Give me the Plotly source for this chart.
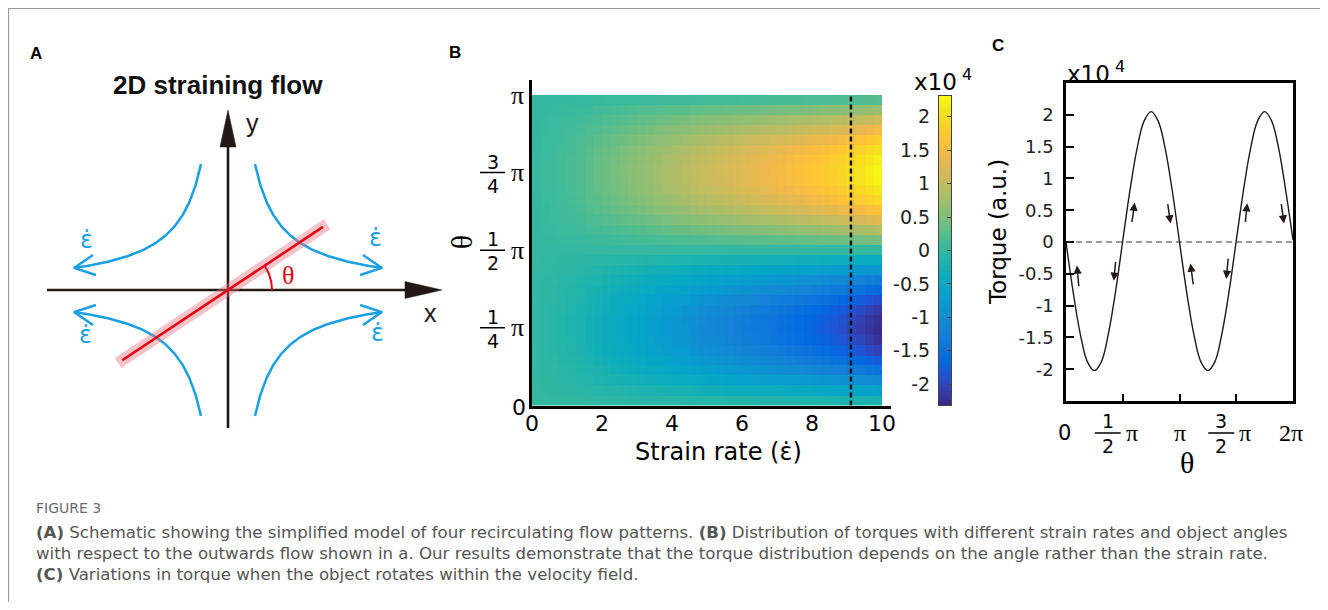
import numpy as np
import plotly.graph_objects as go

# the page puts the figure 8px in from the top-left corner
OFF = 8
FW, FH = 1320, 594

# ---------------- panel B: torque map (units of 1e4) ----------------
strain_rate = [0.125, 0.375, 0.625, 0.875, 1.125, 1.375, 1.625, 1.875, 2.125, 2.375,
               2.625, 2.875, 3.125, 3.375, 3.625, 3.875, 4.125, 4.375, 4.625, 4.875,
               5.125, 5.375, 5.625, 5.875, 6.125, 6.375, 6.625, 6.875, 7.125, 7.375,
               7.625, 7.875, 8.125, 8.375, 8.625, 8.875, 9.125, 9.375, 9.625, 9.875]
strain_ticks = [0, 2, 4, 6, 8, 10]
# torque amplitude seen along each strain-rate column
peak_torque = [0.02, 0.05, 0.08, 0.12, 0.16, 0.21, 0.27, 0.33, 0.39, 0.45,
               0.51, 0.57, 0.63, 0.69, 0.75, 0.81, 0.87, 0.93, 0.99, 1.05,
               1.10, 1.15, 1.20, 1.25, 1.30, 1.35, 1.40, 1.45, 1.50, 1.55,
               1.60, 1.66, 1.72, 1.78, 1.85, 1.92, 2.00, 2.08, 2.17, 2.27]
# row centres (units of pi) and relative torque of each row
theta_rows = [0.016, 0.048, 0.081, 0.113, 0.145, 0.177, 0.210, 0.242, 0.274, 0.306,
              0.339, 0.371, 0.403, 0.435, 0.468, 0.500, 0.532, 0.565, 0.597, 0.629,
              0.661, 0.694, 0.726, 0.758, 0.790, 0.823, 0.855, 0.887, 0.919, 0.952, 0.984]
angle_profile = [-0.10, -0.30, -0.49, -0.65, -0.79, -0.90, -0.97, -1.00, -0.99, -0.94,
                 -0.85, -0.72, -0.57, -0.39, -0.20, 0.00, 0.20, 0.39, 0.57, 0.72,
                 0.85, 0.94, 0.99, 1.00, 0.97, 0.90, 0.79, 0.65, 0.49, 0.30, 0.10]
dashed_strain = 9.1
cbar_min, cbar_max = -2.31, 2.31
cbar_ticks = [-2, -1.5, -1, -0.5, 0, 0.5, 1, 1.5, 2]
cbar_text = ['-2', '-1.5', '-1', '-0.5', '0', '0.5', '1', '1.5', '2']

# ---------------- panel C: torque vs angle ----------------
theta_c = [0, 0.0625, 0.125, 0.1875, 0.25, 0.3125, 0.375, 0.4375, 0.5, 0.5625, 0.625,
           0.6875, 0.75, 0.8125, 0.875, 0.9375, 1.0, 1.0625, 1.125, 1.1875, 1.25, 1.3125,
           1.375, 1.4375, 1.5, 1.5625, 1.625, 1.6875, 1.75, 1.8125, 1.875, 1.9375, 2.0]
torque_c = [0.00, -0.78, -1.44, -1.88, -2.02, -1.88, -1.43, -0.77, 0.02, 0.80, 1.46,
            1.90, 2.05, 1.90, 1.46, 0.79, 0.00, -0.78, -1.44, -1.88, -2.02, -1.88,
            -1.43, -0.77, 0.02, 0.80, 1.46, 1.90, 2.05, 1.90, 1.46, 0.79, 0.03]
torque_ticks = [-2, -1.5, -1, -0.5, 0, 0.5, 1, 1.5, 2]
torque_text = ['-2', '-1.5', '-1', '-0.5', '0', '0.5', '1', '1.5', '2']
# small direction arrows: (tail theta, tail torque, tip theta, tip torque)
torque_arrows = [(0.358, -0.72, 0.303, -0.37), (1.378, -0.29, 1.323, -0.61),
                 (1.819, 0.29, 1.901, 0.62), (2.811, 0.62, 2.894, 0.29),
                 (3.527, -0.69, 3.445, -0.34), (4.492, -0.24, 4.437, -0.58),
                 (4.960, 0.29, 5.016, 0.61), (5.953, 0.62, 6.035, 0.29)]

# ---------------- panel A: schematic (pixel-like units) ----------------
flow_k = 3400
flow_x = (27, 154)
rod_angle = 33.6
rod_len = (127, 114)
arc_r = 44

parula_idx = [0, 3, 6, 9, 12, 15, 18, 21, 24, 27, 30, 33, 36, 39, 42, 45, 48, 51, 54, 57, 60, 63]
parula_rgb = [(0.2081, 0.1663, 0.5292), (0.2081, 0.2386, 0.6771), (0.1253, 0.3242, 0.8303),
              (0.0060, 0.4086, 0.8828), (0.0498, 0.4586, 0.8641), (0.0779, 0.5040, 0.8384),
              (0.0641, 0.5570, 0.8240), (0.0265, 0.6137, 0.8135), (0.0228, 0.6535, 0.7768),
              (0.0590, 0.6838, 0.7254), (0.1453, 0.7098, 0.6646), (0.2586, 0.7317, 0.5954),
              (0.3953, 0.7459, 0.5244), (0.5300, 0.7491, 0.4661), (0.6473, 0.7456, 0.4188),
              (0.7525, 0.7384, 0.3768), (0.8507, 0.7299, 0.3360), (0.9450, 0.7261, 0.2886),
              (0.9990, 0.7653, 0.2164), (0.9789, 0.8271, 0.1633), (0.9589, 0.8949, 0.1132),
              (0.9763, 0.9831, 0.0538)]
parula = [[i / 63, 'rgb(%d,%d,%d)' % tuple(int(round(c * 255)) for c in rgb)]
          for i, rgb in zip(parula_idx, parula_rgb)]


def px(x):
    return (x - OFF) / FW


def py(y):
    return 1 - (y - OFF) / FH


SANS = 'DejaVu Sans'
SERIF = 'Liberation Serif'
AX = '#231815'
BLUE = '#1a9fe0'
RED = '#e60012'

fig = go.Figure()

# B heatmap
z = np.outer(angle_profile, peak_torque)
fig.add_trace(go.Heatmap(x=strain_rate, y=[t * np.pi for t in theta_rows], z=z,
                         colorscale=parula, zmin=cbar_min, zmax=cbar_max,
                         showscale=False, hoverinfo='skip', xaxis='x', yaxis='y'))
# colour bar drawn as its own small axis so labels sit on the left
cb = np.linspace(cbar_min, cbar_max, 240)
fig.add_trace(go.Heatmap(x=[0], y=cb, z=[[v] for v in cb], colorscale=parula,
                         zmin=cbar_min, zmax=cbar_max, showscale=False,
                         hoverinfo='skip', xaxis='x4', yaxis='y4'))
fig.add_trace(go.Scatter(x=[0], y=[0], mode='markers', marker=dict(opacity=0),
                         hoverinfo='skip', xaxis='x4', yaxis='y5'))

# C curve
fig.add_trace(go.Scatter(x=[t * np.pi for t in theta_c], y=torque_c, mode='lines',
                         line=dict(color='#1a1a1a', width=1.4, shape='spline'),
                         hoverinfo='skip', xaxis='x2', yaxis='y2'))


# A schematic
def a_line(x, y, color, width, **kw):
    fig.add_trace(go.Scatter(x=x, y=y, mode='lines', line=dict(color=color, width=width),
                             hoverinfo='skip', xaxis='x3', yaxis='y3', **kw))


for sx, sy in [(1, 1), (-1, 1), (-1, -1), (1, -1)]:
    xs = np.geomspace(flow_x[0], flow_x[1], 120)
    a_line(sx * xs, sy * flow_k / xs, BLUE, 2.5)
    tx, ty = sx * flow_x[1], sy * flow_k / flow_x[1]
    d = np.array([sx, -sy * flow_k / flow_x[1] ** 2])
    d = -d / np.linalg.norm(d)
    arms = []
    for a in (np.radians(26), -np.radians(26)):
        rx = d[0] * np.cos(a) - d[1] * np.sin(a)
        ry = d[0] * np.sin(a) + d[1] * np.cos(a)
        arms.append((tx + 23 * rx, ty + 23 * ry))
    a_line([arms[0][0], tx, arms[1][0]], [arms[0][1], ty, arms[1][1]], BLUE, 2.5)

# coordinate axes with arrow heads
a_line([-181, 180], [0, 0], AX, 2.6)
a_line([0, 0], [-138, 146], AX, 2.6)
a_line([177, 214, 177, 177], [8.5, 0, -8.5, 8.5], AX, 0.5, fill='toself', fillcolor=AX)
a_line([-8, 0, 8, -8], [143, 180, 143, 143], AX, 0.5, fill='toself', fillcolor=AX)

# rod and angle
ca, sa = np.cos(np.radians(rod_angle)), np.sin(np.radians(rod_angle))
a_line([-(rod_len[0] + 5) * ca, (rod_len[1] + 5) * ca], [-(rod_len[0] + 5) * sa, (rod_len[1] + 5) * sa],
       'rgba(236,112,128,0.42)', 12)
a_line([-rod_len[0] * ca, rod_len[1] * ca], [-rod_len[0] * sa, rod_len[1] * sa], RED, 2.6)
ang = np.radians(np.linspace(0, rod_angle, 40))
a_line(arc_r * np.cos(ang), arc_r * np.sin(ang), RED, 2)

shapes = [
    # outer frame
    dict(type='rect', xref='paper', yref='paper', x0=0.0004, x1=px(1327), y0=-0.1, y1=0.9993,
         line=dict(color='#9a9a9a', width=1.2)),
    # dashed marker in B
    dict(type='line', xref='x', yref='y', x0=dashed_strain, x1=dashed_strain, y0=0, y1=np.pi,
         line=dict(color='#111', width=2.5, dash='5px,3px')),
    # zero line in C
    dict(type='line', xref='x2', yref='y2', x0=0, x1=2 * np.pi, y0=0, y1=0,
         line=dict(color='#333', width=1, dash='6px,4px')),
]

ann = []


def txt(text, x, y, size, family=SANS, color='black', xanchor='center', **kw):
    ann.append(dict(text=text, x=px(x), y=py(y), xref='paper', yref='paper', showarrow=False,
                    xanchor=xanchor, yanchor='middle',
                    font=dict(family=family, size=size, color=color), **kw))


def note(text, x, y, xref, yref, size, family, color='black', **kw):
    ann.append(dict(text=text, x=x, y=y, xref=xref, yref=yref, showarrow=False,
                    xanchor='center', yanchor='middle',
                    font=dict(family=family, size=size, color=color), **kw))


# panel letters
txt('<b>A</b>', 36, 53, 17, 'Liberation Sans')
txt('<b>B</b>', 455, 52, 17, 'Liberation Sans')
txt('<b>C</b>', 998, 45, 17, 'Liberation Sans')

# A texts
txt('<b>2D straining flow</b>', 218, 85, 26, 'Liberation Sans', '#111')
note('y', 24, 167, 'x3', 'y3', 25, 'Liberation Sans', AX)
note('x', 202, -23, 'x3', 'y3', 25, 'Liberation Sans', AX)
note('θ', 60, 15, 'x3', 'y3', 26, SERIF, RED)
for ex, ey in [(-142, 50), (147, 52), (-143, -45), (149, -43)]:
    note('ε̇', ex, ey, 'x3', 'y3', 24, SANS, BLUE)

# B tick labels
for v in strain_ticks:
    note(str(v), v, py(423), 'x', 'paper', 22, SANS)
note('0', px(519), 0, 'paper', 'y', 22, SANS, yshift=-2)
note('π', px(517), np.pi, 'paper', 'y', 26, SERIF)
for num, den, val in [('1', '4', 0.25), ('1', '2', 0.5), ('3', '4', 0.75)]:
    note(num, px(493), val * np.pi, 'paper', 'y', 19, SANS, yshift=11)
    note(den, px(493), val * np.pi, 'paper', 'y', 19, SANS, yshift=-13)
    note('π', px(517), val * np.pi, 'paper', 'y', 26, SERIF)
    shapes.append(dict(type='line', xref='paper', yref='y', x0=px(480), x1=px(505),
                       y0=val * np.pi, y1=val * np.pi, line=dict(color='black', width=1.5)))
note('θ', px(461), 0.5 * np.pi, 'paper', 'y', 30, SERIF, textangle=-90, yshift=8)
txt('Strain rate (ε̇)', 718, 452, 24)
txt('x10<sup> 4</sup>', 912, 80, 23, xanchor='left')

# C tick labels on the angle axis
ly = 433
txt('0', 1064, ly, 21)
note('π', np.pi, py(ly), 'x2', 'paper', 24, SERIF)
note('2π', 2 * np.pi, py(ly), 'x2', 'paper', 24, SERIF, xshift=-2)
for num, val in [('1', 0.5), ('3', 1.5)]:
    note(num, val * np.pi, py(ly), 'x2', 'paper', 19, SANS, xshift=-15, yshift=12)
    note('2', val * np.pi, py(ly), 'x2', 'paper', 19, SANS, xshift=-15, yshift=-13)
    note('π', val * np.pi, py(ly), 'x2', 'paper', 24, SERIF, xshift=9)
    cx = 1066 + val / 2 * 227 - 15
    shapes.append(dict(type='line', xref='paper', yref='paper', x0=px(cx - 13), x1=px(cx + 13),
                       y0=py(ly), y1=py(ly), line=dict(color='black', width=1.5)))
txt('θ', 1187, 462, 30, SERIF)
txt('Torque (a.u.)', 998, 232, 23, textangle=-90)
txt('x10<sup> 4</sup>', 1065, 72, 23, xanchor='left')

for t0, v0, t1, v1 in torque_arrows:
    ann.append(dict(x=t1, y=v1, ax=t0, ay=v0, xref='x2', yref='y2', axref='x2', ayref='y2',
                    text='', showarrow=True, arrowhead=2, arrowsize=1.1, arrowwidth=1.5,
                    arrowcolor=AX))

# caption
txt('FIGURE 3', 34, 508, 14, SANS, '#6b6b6b', xanchor='left')
cap_lines = [
    '<b>(A)</b> Schematic showing the simplified model of four recirculating flow patterns. '
    '<b>(B)</b> Distribution of torques with different strain rates and object angles',
    'with respect to the outwards flow shown in a. Our results demonstrate that the torque '
    'distribution depends on the angle rather than the strain rate.',
    '<b>(C)</b> Variations in torque when the object rotates within the velocity field.',
]
for i, line in enumerate(cap_lines):
    txt(line, 34, 532 + 21 * i, 16.6, SANS, '#555555', xanchor='left')

noaxis = dict(showgrid=False, zeroline=False)
fig.update_layout(
    width=FW, height=FH, margin=dict(l=0, r=0, t=0, b=0),
    paper_bgcolor='white', plot_bgcolor='white', showlegend=False,
    xaxis=dict(domain=[px(532), px(891)], range=[0, 10.243], anchor='y', showline=True,
               linecolor='black', linewidth=2.5, ticks='', showticklabels=False, **noaxis),
    yaxis=dict(domain=[py(405.5), py(80)], range=[0, np.pi * 1.0483], anchor='x', showline=True,
               linecolor='black', linewidth=2.5, ticks='', showticklabels=False, **noaxis),
    xaxis2=dict(domain=[px(1066), px(1293)], range=[0, 2 * np.pi], anchor='y2', showline=True,
                mirror=True, linecolor='black', linewidth=2.5, ticks='inside', ticklen=7,
                tickwidth=1.5, tickcolor='black', tickvals=[np.pi / 2, np.pi, 1.5 * np.pi],
                showticklabels=False, **noaxis),
    yaxis2=dict(domain=[py(401), py(83)], range=[-2.5, 2.5], anchor='x2', showline=True,
                mirror=True, linecolor='black', linewidth=2.5, ticks='inside', ticklen=8,
                tickwidth=1.5, tickcolor='black', tickvals=torque_ticks, ticktext=torque_text,
                tickfont=dict(family=SANS, size=18, color='#222'), ticklabelstandoff=6, **noaxis),
    xaxis3=dict(domain=[px(40), px(450)], range=[-188, 222], anchor='y3', visible=False, **noaxis),
    yaxis3=dict(domain=[py(440), py(100)], range=[-150, 190], anchor='x3', visible=False, **noaxis),
    xaxis4=dict(domain=[px(939), px(951)], range=[-0.5, 0.5], anchor='y4', showline=True,
                mirror=True, linecolor='#444', linewidth=1, ticks='', showticklabels=False, **noaxis),
    yaxis4=dict(domain=[py(405), py(96)], range=[cbar_min, cbar_max], anchor='x4', side='left',
                showline=True, mirror=True, linecolor='#444', linewidth=1, ticks='',
                tickvals=cbar_ticks, ticktext=cbar_text, ticklabelstandoff=4,
                tickfont=dict(family=SANS, size=19, color='#222'), **noaxis),
    yaxis5=dict(overlaying='y4', anchor='x4', side='right', range=[cbar_min, cbar_max],
                tickvals=cbar_ticks, ticks='inside', ticklen=4, tickcolor='#444',
                showticklabels=False, showline=False, **noaxis),
    shapes=shapes, annotations=ann,
)

fig.write_html('out.html')
